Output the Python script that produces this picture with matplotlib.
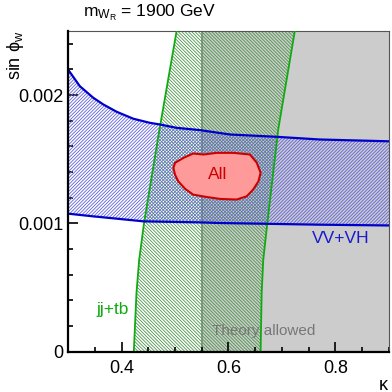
import numpy as np
import matplotlib
matplotlib.use("Agg")
import matplotlib.pyplot as plt
from matplotlib.ticker import MultipleLocator

plt.rcParams['font.family'] = ['Liberation Sans', 'DejaVu Sans']
plt.rcParams['mathtext.fontset'] = 'custom'
plt.rcParams['mathtext.rm'] = 'Liberation Sans'
plt.rcParams['mathtext.it'] = 'Liberation Sans'
plt.rcParams['hatch.linewidth'] = 0.6

# ---- data ----
# VV+VH band (upper / lower edge)
vv_up_x = [0.300, 0.322, 0.347, 0.366, 0.391, 0.422, 0.453, 0.472, 0.503, 0.547, 0.603, 0.690, 0.771, 0.900]
vv_up_y = [0.00220, 0.00207, 0.00198, 0.001927, 0.00187, 0.001816, 0.001784, 0.001771, 0.001745, 0.001727, 0.001693, 0.001675, 0.001654, 0.00164]
vv_lo_x = [0.300, 0.347, 0.391, 0.441, 0.547, 0.584, 0.771, 0.900]
vv_lo_y = [0.001076, 0.001055, 0.001037, 0.001016, 0.001008, 0.001003, 0.00099, 0.000984]

# jj+tb band (left / right edge, kappa as function of sin phi)
jj_y = [0.0, 0.00046, 0.000716, 0.001, 0.001733, 0.0025]
jj_left = [0.423, 0.428, 0.433, 0.442, 0.471, 0.503]
jj_right = [0.660, 0.662, 0.665, 0.6725, 0.693, 0.724]

# combined ("All") contour
all_x = [0.497, 0.500, 0.516, 0.534, 0.553, 0.578, 0.609, 0.640, 0.653, 0.660,
         0.656, 0.646, 0.634, 0.615, 0.584, 0.559, 0.534, 0.519, 0.506, 0.500]
all_y = [0.001433, 0.001472, 0.001511, 0.001545, 0.001537, 0.00155, 0.00155, 0.001537, 0.001472, 0.001394,
         0.001328, 0.001263, 0.001211, 0.001186, 0.001191, 0.001206, 0.001224, 0.001269, 0.001328, 0.00138]

theory_min = 0.55
xmin, xmax = 0.3, 0.9
ymin, ymax = 0.0, 0.0025

fig = plt.figure(figsize=(3.92, 3.92), dpi=100)
ax = fig.add_axes([0.1735, 0.1028, 0.8188, 0.8182])

# theory allowed region
ax.axvspan(theory_min, xmax, color='#cccccc', lw=0, zorder=0)
ax.axvline(theory_min, color='#7f8f7f', lw=1.2, zorder=0.5)

# jj+tb hatched band
gx = jj_left + jj_right[::-1]
gy = jj_y + jj_y[::-1]
ax.fill(gx, gy, facecolor='none', edgecolor='#4a944a', hatch='\\' * 10, lw=0, zorder=1)
ax.plot(jj_left, jj_y, color='#11aa11', lw=1.3, zorder=3)
ax.plot(jj_right, jj_y, color='#11aa11', lw=1.3, zorder=3)

# VV+VH hatched band
bx = vv_up_x + vv_lo_x[::-1]
by = vv_up_y + vv_lo_y[::-1]
ax.fill(bx, by, facecolor='none', edgecolor='#6060e0', hatch='/' * 10, lw=0, zorder=2)
ax.plot(vv_up_x, vv_up_y, color='#0000cc', lw=1.6, zorder=3)
ax.plot(vv_lo_x, vv_lo_y, color='#0000cc', lw=1.6, zorder=3)

# All contour
ax.fill(all_x, all_y, facecolor='#ff9a9a', edgecolor='#cc0000', lw=1.5, zorder=4)

ax.text(0.580, 0.00138, 'All', color='#cc0000', fontsize=12.5, ha='center', va='center', zorder=5)
ax.text(0.7555, 0.000886, 'VV+VH', color='#1a1acc', fontsize=12.5, ha='left', va='center', zorder=5)
ax.text(0.4146, 0.000326, 'jj+tb', color='#11aa11', fontsize=12.5, ha='right', va='center', zorder=5)
ax.text(0.5686, 0.000162, 'Theory allowed', color='#777777', fontsize=11, ha='left', va='center', zorder=5)

ax.set_xlim(xmin, xmax)
ax.set_ylim(ymin, ymax)
ax.set_xticks([0.4, 0.6, 0.8])
ax.set_xticklabels(['0.4', '0.6', '0.8'])
ax.set_yticks([0, 0.001, 0.002])
ax.set_yticklabels(['0', '0.001', '0.002'])
ax.xaxis.set_minor_locator(MultipleLocator(0.05))
ax.yaxis.set_minor_locator(MultipleLocator(0.0002))
ax.tick_params(which='both', direction='in', top=False, right=False, labelsize=13, width=1.2)
ax.tick_params(which='major', length=7)
ax.tick_params(which='minor', length=3.5)
ax.tick_params(axis='x', pad=6)
ax.tick_params(axis='y', pad=3)
for s in ['left', 'bottom']:
    ax.spines[s].set_linewidth(1.6)
    ax.spines[s].set_zorder(6)
for s in ['top', 'right']:
    ax.spines[s].set_linewidth(0.8)
    ax.spines[s].set_color('#555555')

fig.text(0.212, 0.967, r'm$_{\mathrm{W}_{\mathrm{R}}}$ = 1900 GeV', fontsize=12.5, ha='left', va='center')
fig.text(0.040, 0.921, r'sin $\phi_{\mathrm{w}}$', fontsize=13, rotation=90, ha='center', va='top')
fig.text(383 / 392, 1 - 385 / 392, 'κ', fontsize=13, ha='center', va='center')

fig.savefig('out.png', dpi=100)
